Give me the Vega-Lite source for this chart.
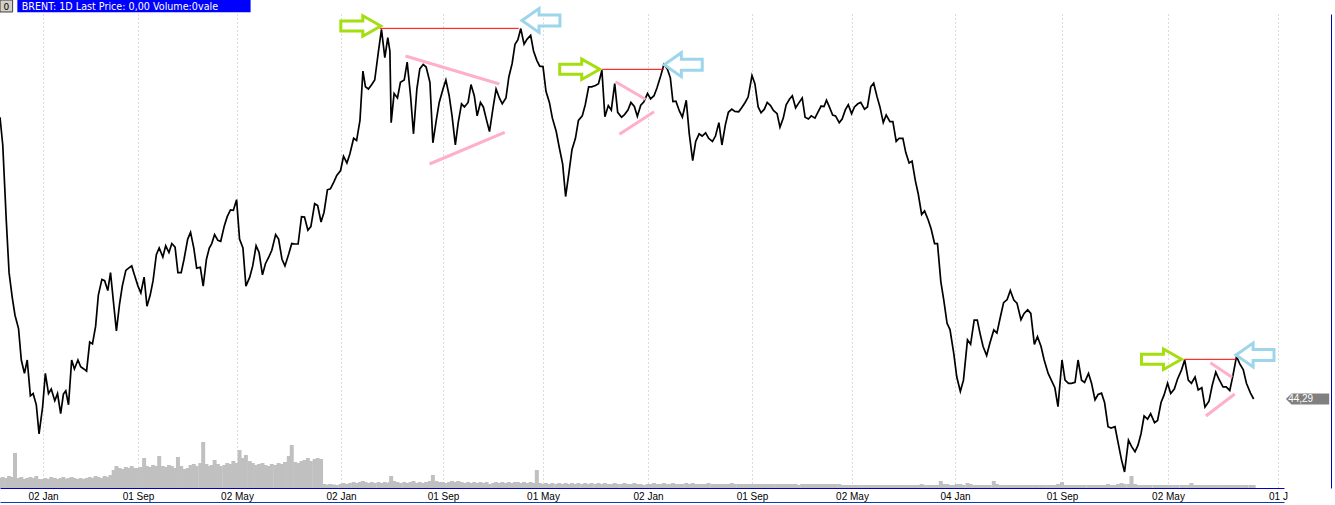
{
  "$schema": "https://vega.github.io/schema/vega-lite/v6.json",
  "width": 1284,
  "height": 474,
  "autosize": {"type": "none"},
  "padding": {"left": 0, "top": 14, "right": 51, "bottom": 17},
  "background": "#ffffff",
  "config": {
    "view": {"stroke": null},
    "font": "Liberation Sans",
    "axis": {"labelFont": "Liberation Sans", "labelFontSize": 10, "labelColor": "#000000", "ticks": false, "title": null, "domainColor": "#0000c0", "domainWidth": 1, "gridColor": "#b8b8b8", "gridDash": [1, 3], "gridWidth": 1}
  },
  "datasets": {
    "px": [
      {"d":"2008-09-15","p":107.2,"v":20},{"d":"2008-09-22","p":101.0,"v":22},{"d":"2008-10-01","p":84.0,"v":20},{"d":"2008-10-08","p":72.5,"v":24},
      {"d":"2008-10-16","p":67.0,"v":22},{"d":"2008-10-23","p":63.0,"v":70},{"d":"2008-11-01","p":60.0,"v":20},{"d":"2008-11-08","p":53.0,"v":22},
      {"d":"2008-11-16","p":50.0,"v":18},{"d":"2008-11-23","p":53.0,"v":20},{"d":"2008-12-01","p":45.0,"v":22},{"d":"2008-12-08","p":45.5,"v":20},
      {"d":"2008-12-16","p":43.0,"v":24},{"d":"2008-12-23","p":36.5,"v":18},
      {"d":"2009-01-01","p":42.5,"v":18},{"d":"2009-01-08","p":50.0,"v":20},{"d":"2009-01-16","p":45.5,"v":18},{"d":"2009-01-23","p":46.5,"v":22},
      {"d":"2009-02-01","p":43.9,"v":20},{"d":"2009-02-08","p":45.5,"v":18},{"d":"2009-02-16","p":41.0,"v":20},{"d":"2009-02-23","p":45.4,"v":22},
      {"d":"2009-03-01","p":46.1,"v":18},{"d":"2009-03-08","p":43.0,"v":20},{"d":"2009-03-16","p":53.0,"v":22},{"d":"2009-03-23","p":51.0,"v":20},
      {"d":"2009-04-01","p":53.0,"v":18},{"d":"2009-04-08","p":51.5,"v":20},{"d":"2009-04-16","p":51.0,"v":18},{"d":"2009-04-23","p":50.5,"v":20},
      {"d":"2009-05-01","p":57.0,"v":22},{"d":"2009-05-08","p":56.6,"v":20},{"d":"2009-05-16","p":60.5,"v":24},{"d":"2009-05-23","p":67.5,"v":22},
      {"d":"2009-06-01","p":71.0,"v":20},{"d":"2009-06-08","p":70.7,"v":24},{"d":"2009-06-16","p":68.5,"v":22},{"d":"2009-06-23","p":72.5,"v":26},
      {"d":"2009-07-01","p":65.5,"v":36},{"d":"2009-07-08","p":59.5,"v":44},{"d":"2009-07-16","p":65.5,"v":40},{"d":"2009-07-23","p":69.5,"v":38},
      {"d":"2009-08-01","p":73.0,"v":42},{"d":"2009-08-08","p":73.5,"v":40},{"d":"2009-08-16","p":74.0,"v":44},{"d":"2009-08-23","p":72.0,"v":40},
      {"d":"2009-09-01","p":69.5,"v":40},{"d":"2009-09-08","p":68.0,"v":42},{"d":"2009-09-16","p":71.5,"v":60},{"d":"2009-09-23","p":65.0,"v":44},
      {"d":"2009-10-01","p":67.5,"v":42},{"d":"2009-10-08","p":70.7,"v":46},{"d":"2009-10-16","p":76.5,"v":44},{"d":"2009-10-23","p":78.0,"v":64},
      {"d":"2009-11-01","p":76.0,"v":44},{"d":"2009-11-08","p":78.5,"v":42},{"d":"2009-11-16","p":77.0,"v":46},{"d":"2009-11-23","p":79.0,"v":44},
      {"d":"2009-12-01","p":78.2,"v":40},{"d":"2009-12-08","p":72.5,"v":62},{"d":"2009-12-16","p":72.5,"v":44},{"d":"2009-12-23","p":75.5,"v":38},
      {"d":"2010-01-01","p":80.0,"v":40},{"d":"2010-01-08","p":81.5,"v":46},{"d":"2010-01-16","p":78.0,"v":48},{"d":"2010-01-23","p":73.5,"v":44},
      {"d":"2010-02-01","p":73.7,"v":50},{"d":"2010-02-08","p":69.5,"v":92},{"d":"2010-02-16","p":75.5,"v":48},{"d":"2010-02-23","p":78.0,"v":44},
      {"d":"2010-03-01","p":79.0,"v":46},{"d":"2010-03-08","p":81.0,"v":56},{"d":"2010-03-16","p":79.7,"v":48},{"d":"2010-03-23","p":79.5,"v":44},
      {"d":"2010-04-01","p":83.0,"v":46},{"d":"2010-04-08","p":85.0,"v":50},{"d":"2010-04-16","p":86.5,"v":48},{"d":"2010-04-23","p":86.4,"v":54},
      {"d":"2010-05-01","p":88.8,"v":50},{"d":"2010-05-08","p":80.0,"v":76},{"d":"2010-05-16","p":78.0,"v":60},{"d":"2010-05-23","p":69.5,"v":66},
      {"d":"2010-06-01","p":71.5,"v":54},{"d":"2010-06-08","p":74.0,"v":50},{"d":"2010-06-16","p":78.5,"v":46},{"d":"2010-06-23","p":77.0,"v":48},
      {"d":"2010-07-01","p":72.0,"v":50},{"d":"2010-07-08","p":74.5,"v":46},{"d":"2010-07-16","p":76.0,"v":44},{"d":"2010-07-23","p":77.5,"v":48},
      {"d":"2010-08-01","p":81.0,"v":46},{"d":"2010-08-08","p":80.0,"v":50},{"d":"2010-08-16","p":75.5,"v":48},{"d":"2010-08-23","p":74.0,"v":52},
      {"d":"2010-09-01","p":76.7,"v":64},{"d":"2010-09-08","p":79.0,"v":86},{"d":"2010-09-16","p":78.9,"v":52},{"d":"2010-09-23","p":78.9,"v":50},
      {"d":"2010-10-01","p":85.0,"v":54},{"d":"2010-10-08","p":84.9,"v":56},{"d":"2010-10-16","p":82.0,"v":60},{"d":"2010-10-23","p":82.8,"v":54},
      {"d":"2010-11-01","p":87.9,"v":58},{"d":"2010-11-08","p":87.5,"v":60},{"d":"2010-11-16","p":83.8,"v":58},{"d":"2010-11-23","p":86.0,"v":8},
      {"d":"2010-12-01","p":91.0,"v":7},{"d":"2010-12-08","p":91.2,"v":8},{"d":"2010-12-16","p":92.7,"v":7},{"d":"2010-12-23","p":94.2,"v":6},
      {"d":"2011-01-01","p":95.3,"v":8},{"d":"2011-01-08","p":98.5,"v":10},{"d":"2011-01-16","p":97.0,"v":8},{"d":"2011-01-23","p":99.0,"v":10},
      {"d":"2011-02-01","p":102.5,"v":12},{"d":"2011-02-08","p":102.0,"v":10},{"d":"2011-02-16","p":106.5,"v":12},{"d":"2011-02-23","p":117.5,"v":14},
      {"d":"2011-03-01","p":114.0,"v":12},{"d":"2011-03-08","p":113.5,"v":10},{"d":"2011-03-16","p":114.5,"v":12},{"d":"2011-03-23","p":115.5,"v":10},
      {"d":"2011-04-01","p":122.0,"v":12},{"d":"2011-04-08","p":126.8,"v":10},{"d":"2011-04-16","p":120.5,"v":12},{"d":"2011-04-23","p":125.0,"v":10},
      {"d":"2011-04-28","p":122.0,"v":12},
      {"d":"2011-05-01","p":106.0,"v":24},{"d":"2011-05-08","p":112.5,"v":14},{"d":"2011-05-16","p":111.5,"v":12},{"d":"2011-05-23","p":115.0,"v":10},
      {"d":"2011-06-01","p":115.5,"v":12},{"d":"2011-06-08","p":119.5,"v":10},{"d":"2011-06-16","p":112.0,"v":12},{"d":"2011-06-23","p":103.5,"v":14},
      {"d":"2011-07-01","p":113.5,"v":10},{"d":"2011-07-08","p":118.0,"v":12},{"d":"2011-07-16","p":119.0,"v":10},{"d":"2011-07-23","p":118.4,"v":12},
      {"d":"2011-08-01","p":115.0,"v":14},{"d":"2011-08-08","p":101.5,"v":26},{"d":"2011-08-16","p":106.5,"v":14},{"d":"2011-08-23","p":110.5,"v":12},
      {"d":"2011-09-01","p":113.5,"v":12},{"d":"2011-09-08","p":115.5,"v":10},{"d":"2011-09-16","p":112.0,"v":12},{"d":"2011-09-23","p":107.5,"v":14},
      {"d":"2011-10-01","p":101.0,"v":12},{"d":"2011-10-08","p":106.0,"v":14},{"d":"2011-10-16","p":110.2,"v":12},{"d":"2011-10-23","p":109.5,"v":10},
      {"d":"2011-11-01","p":110.5,"v":12},{"d":"2011-11-08","p":114.5,"v":10},{"d":"2011-11-16","p":112.0,"v":12},{"d":"2011-11-23","p":107.5,"v":10},
      {"d":"2011-12-01","p":110.5,"v":12},{"d":"2011-12-08","p":109.5,"v":10},{"d":"2011-12-16","p":106.5,"v":12},{"d":"2011-12-23","p":104.0,"v":8},
      {"d":"2012-01-01","p":109.5,"v":10},{"d":"2012-01-08","p":113.5,"v":12},{"d":"2012-01-16","p":111.5,"v":10},{"d":"2012-01-23","p":110.2,"v":12},
      {"d":"2012-02-01","p":111.5,"v":10},{"d":"2012-02-08","p":116.2,"v":12},{"d":"2012-02-16","p":119.2,"v":10},{"d":"2012-02-23","p":123.5,"v":12},
      {"d":"2012-03-01","p":124.5,"v":12},{"d":"2012-03-08","p":127.0,"v":10},{"d":"2012-03-16","p":123.5,"v":12},{"d":"2012-03-23","p":124.6,"v":10},
      {"d":"2012-04-01","p":125.5,"v":12},{"d":"2012-04-08","p":122.0,"v":10},{"d":"2012-04-16","p":119.9,"v":36},{"d":"2012-04-23","p":118.6,"v":10},
      {"d":"2012-05-01","p":118.5,"v":8},{"d":"2012-05-08","p":113.0,"v":10},{"d":"2012-05-16","p":110.5,"v":8},{"d":"2012-05-23","p":107.0,"v":10},
      {"d":"2012-06-01","p":104.0,"v":8},{"d":"2012-06-08","p":100.5,"v":10},{"d":"2012-06-16","p":96.8,"v":8},{"d":"2012-06-23","p":89.5,"v":10},
      {"d":"2012-07-01","p":95.0,"v":8},{"d":"2012-07-08","p":100.0,"v":10},{"d":"2012-07-16","p":102.5,"v":8},{"d":"2012-07-23","p":106.5,"v":10},
      {"d":"2012-08-01","p":107.5,"v":8},{"d":"2012-08-08","p":110.0,"v":10},{"d":"2012-08-16","p":114.0,"v":8},{"d":"2012-08-23","p":114.0,"v":10},
      {"d":"2012-09-01","p":114.3,"v":8},{"d":"2012-09-08","p":114.7,"v":10},{"d":"2012-09-16","p":117.7,"v":8},{"d":"2012-09-23","p":107.3,"v":10},
      {"d":"2012-10-01","p":109.8,"v":8},{"d":"2012-10-08","p":108.8,"v":8},{"d":"2012-10-16","p":114.7,"v":10},{"d":"2012-10-23","p":108.3,"v":8},
      {"d":"2012-11-01","p":107.2,"v":8},{"d":"2012-11-08","p":107.8,"v":10},{"d":"2012-11-16","p":108.8,"v":8},{"d":"2012-11-23","p":110.5,"v":8},
      {"d":"2012-12-01","p":109.6,"v":10},{"d":"2012-12-08","p":107.4,"v":8},{"d":"2012-12-16","p":109.9,"v":8},{"d":"2012-12-23","p":110.6,"v":6},
      {"d":"2013-01-01","p":112.5,"v":8},{"d":"2013-01-08","p":111.3,"v":8},{"d":"2013-01-16","p":112.0,"v":10},{"d":"2013-01-23","p":113.8,"v":8},
      {"d":"2013-02-01","p":116.6,"v":8},{"d":"2013-02-08","p":119.0,"v":10},{"d":"2013-02-16","p":118.0,"v":8},{"d":"2013-02-23","p":116.0,"v":8},
      {"d":"2013-03-01","p":110.7,"v":10},{"d":"2013-03-08","p":110.8,"v":8},{"d":"2013-03-16","p":108.6,"v":8},{"d":"2013-03-23","p":107.2,"v":8},
      {"d":"2013-04-01","p":111.0,"v":10},{"d":"2013-04-08","p":103.5,"v":8},{"d":"2013-04-16","p":97.5,"v":10},{"d":"2013-04-23","p":101.8,"v":8},
      {"d":"2013-05-01","p":103.5,"v":8},{"d":"2013-05-08","p":103.0,"v":8},{"d":"2013-05-16","p":103.7,"v":8},{"d":"2013-05-23","p":102.5,"v":10},
      {"d":"2013-06-01","p":101.8,"v":8},{"d":"2013-06-08","p":103.0,"v":8},{"d":"2013-06-16","p":106.0,"v":8},{"d":"2013-06-23","p":101.0,"v":8},
      {"d":"2013-07-01","p":105.5,"v":8},{"d":"2013-07-08","p":108.3,"v":8},{"d":"2013-07-16","p":109.0,"v":10},{"d":"2013-07-23","p":108.5,"v":8},
      {"d":"2013-08-01","p":108.4,"v":8},{"d":"2013-08-08","p":109.3,"v":8},{"d":"2013-08-16","p":110.5,"v":8},{"d":"2013-08-23","p":111.7,"v":8},
      {"d":"2013-09-01","p":116.5,"v":8},{"d":"2013-09-08","p":114.7,"v":8},{"d":"2013-09-16","p":109.5,"v":8},{"d":"2013-09-23","p":108.2,"v":8},
      {"d":"2013-10-01","p":109.0,"v":8},{"d":"2013-10-08","p":110.5,"v":8},{"d":"2013-10-16","p":109.8,"v":8},{"d":"2013-10-23","p":108.7,"v":8},
      {"d":"2013-11-01","p":108.0,"v":8},{"d":"2013-11-08","p":105.0,"v":8},{"d":"2013-11-16","p":107.0,"v":8},{"d":"2013-11-23","p":110.0,"v":8},
      {"d":"2013-12-01","p":111.2,"v":8},{"d":"2013-12-08","p":112.0,"v":8},{"d":"2013-12-16","p":109.3,"v":8},{"d":"2013-12-23","p":110.3,"v":6},
      {"d":"2014-01-01","p":111.5,"v":8},{"d":"2014-01-08","p":107.2,"v":8},{"d":"2014-01-16","p":106.8,"v":8},{"d":"2014-01-23","p":107.5,"v":8},
      {"d":"2014-02-01","p":107.0,"v":8},{"d":"2014-02-08","p":108.3,"v":8},{"d":"2014-02-16","p":109.7,"v":8},{"d":"2014-02-23","p":109.6,"v":8},
      {"d":"2014-03-01","p":111.0,"v":8},{"d":"2014-03-08","p":109.5,"v":8},{"d":"2014-03-16","p":107.7,"v":8},{"d":"2014-03-23","p":107.5,"v":8},
      {"d":"2014-04-01","p":106.0,"v":8},{"d":"2014-04-08","p":106.8,"v":6},{"d":"2014-04-16","p":108.9,"v":6},{"d":"2014-04-23","p":110.0,"v":6},
      {"d":"2014-05-01","p":108.0,"v":6},{"d":"2014-05-08","p":109.5,"v":6},{"d":"2014-05-16","p":110.2,"v":6},{"d":"2014-05-23","p":110.5,"v":6},
      {"d":"2014-06-01","p":109.0,"v":6},{"d":"2014-06-08","p":109.5,"v":6},{"d":"2014-06-16","p":114.0,"v":6},{"d":"2014-06-23","p":114.8,"v":6},
      {"d":"2014-07-01","p":111.8,"v":6},{"d":"2014-07-08","p":109.5,"v":6},{"d":"2014-07-16","p":106.0,"v":6},{"d":"2014-07-23","p":107.7,"v":6},
      {"d":"2014-08-01","p":106.2,"v":6},{"d":"2014-08-08","p":106.2,"v":6},{"d":"2014-08-16","p":101.8,"v":6},{"d":"2014-08-23","p":102.5,"v":6},
      {"d":"2014-09-01","p":102.5,"v":6},{"d":"2014-09-08","p":99.3,"v":6},{"d":"2014-09-16","p":97.0,"v":6},{"d":"2014-09-23","p":97.4,"v":6},
      {"d":"2014-10-01","p":93.0,"v":6},{"d":"2014-10-08","p":90.0,"v":6},{"d":"2014-10-16","p":85.5,"v":8},{"d":"2014-10-23","p":86.3,"v":6},
      {"d":"2014-11-01","p":84.2,"v":6},{"d":"2014-11-08","p":82.2,"v":6},{"d":"2014-11-16","p":79.0,"v":6},{"d":"2014-11-23","p":79.0,"v":6},
      {"d":"2014-12-01","p":70.5,"v":14},{"d":"2014-12-08","p":66.4,"v":8},{"d":"2014-12-16","p":61.2,"v":8},{"d":"2014-12-23","p":59.8,"v":6},
      {"d":"2015-01-01","p":54.5,"v":6},{"d":"2015-01-08","p":49.2,"v":8},{"d":"2015-01-16","p":46.0,"v":8},{"d":"2015-01-23","p":48.5,"v":6},
      {"d":"2015-02-01","p":57.5,"v":10},{"d":"2015-02-08","p":56.5,"v":8},{"d":"2015-02-16","p":61.9,"v":6},{"d":"2015-02-23","p":61.9,"v":6},
      {"d":"2015-03-01","p":59.0,"v":6},{"d":"2015-03-08","p":56.0,"v":6},{"d":"2015-03-16","p":54.0,"v":6},{"d":"2015-03-23","p":56.7,"v":6},
      {"d":"2015-04-01","p":59.7,"v":14},{"d":"2015-04-08","p":59.0,"v":8},{"d":"2015-04-16","p":62.7,"v":6},{"d":"2015-04-23","p":65.8,"v":6},
      {"d":"2015-05-01","p":66.5,"v":6},{"d":"2015-05-08","p":68.5,"v":6},{"d":"2015-05-16","p":66.4,"v":6},{"d":"2015-05-23","p":65.7,"v":6},
      {"d":"2015-06-01","p":62.0,"v":6},{"d":"2015-06-08","p":63.4,"v":6},{"d":"2015-06-16","p":64.2,"v":6},{"d":"2015-06-23","p":63.4,"v":6},
      {"d":"2015-07-01","p":56.5,"v":6},{"d":"2015-07-08","p":58.2,"v":6},{"d":"2015-07-16","p":56.0,"v":6},{"d":"2015-07-23","p":53.0,"v":6},
      {"d":"2015-08-01","p":50.0,"v":6},{"d":"2015-08-08","p":48.5,"v":6},{"d":"2015-08-16","p":46.8,"v":6},{"d":"2015-08-23","p":42.6,"v":8},
      {"d":"2015-09-01","p":53.0,"v":12},{"d":"2015-09-08","p":48.5,"v":6},{"d":"2015-09-16","p":47.8,"v":6},{"d":"2015-09-23","p":47.8,"v":6},
      {"d":"2015-10-01","p":48.0,"v":6},{"d":"2015-10-08","p":53.0,"v":6},{"d":"2015-10-16","p":48.5,"v":6},{"d":"2015-10-23","p":48.0,"v":6},
      {"d":"2015-11-01","p":50.0,"v":6},{"d":"2015-11-08","p":47.8,"v":6},{"d":"2015-11-16","p":44.1,"v":6},{"d":"2015-11-23","p":45.3,"v":6},
      {"d":"2015-12-01","p":45.6,"v":6},{"d":"2015-12-08","p":43.5,"v":6},{"d":"2015-12-16","p":38.1,"v":8},{"d":"2015-12-23","p":37.8,"v":6},
      {"d":"2016-01-01","p":38.1,"v":6},{"d":"2016-01-08","p":34.6,"v":8},{"d":"2016-01-16","p":30.7,"v":10},{"d":"2016-01-23","p":28.0,"v":8},
      {"d":"2016-02-01","p":35.1,"v":8},{"d":"2016-02-08","p":33.7,"v":24},{"d":"2016-02-16","p":32.5,"v":8},{"d":"2016-02-23","p":34.0,"v":6},
      {"d":"2016-03-01","p":36.6,"v":6},{"d":"2016-03-08","p":40.5,"v":6},{"d":"2016-03-16","p":39.8,"v":6},{"d":"2016-03-23","p":41.0,"v":6},
      {"d":"2016-04-01","p":39.0,"v":6},{"d":"2016-04-08","p":39.5,"v":6},{"d":"2016-04-16","p":43.5,"v":6},{"d":"2016-04-23","p":45.2,"v":6},
      {"d":"2016-05-01","p":47.8,"v":6},{"d":"2016-05-08","p":45.5,"v":6},{"d":"2016-05-16","p":46.5,"v":6},{"d":"2016-05-23","p":48.7,"v":6},
      {"d":"2016-06-01","p":50.8,"v":6},{"d":"2016-06-08","p":53.0,"v":6},{"d":"2016-06-16","p":48.5,"v":6},{"d":"2016-06-23","p":47.8,"v":10},
      {"d":"2016-07-01","p":49.2,"v":6},{"d":"2016-07-08","p":46.3,"v":6},{"d":"2016-07-16","p":46.8,"v":6},{"d":"2016-07-23","p":42.5,"v":6},
      {"d":"2016-08-01","p":43.8,"v":6},{"d":"2016-08-08","p":47.3,"v":6},{"d":"2016-08-16","p":50.3,"v":6},{"d":"2016-08-23","p":48.7,"v":6},
      {"d":"2016-09-01","p":47.0,"v":6},{"d":"2016-09-08","p":47.0,"v":6},{"d":"2016-09-16","p":46.2,"v":6},{"d":"2016-09-23","p":49.5,"v":6},
      {"d":"2016-10-01","p":53.8,"v":6},{"d":"2016-10-08","p":52.2,"v":6},{"d":"2016-10-16","p":50.8,"v":6},{"d":"2016-10-23","p":47.8,"v":6},
      {"d":"2016-11-01","p":45.6,"v":6},{"d":"2016-11-08","p":44.29,"v":6}
    ],
    "res": [
      {"d":"2011-04-04","d2":"2012-03-03","p":127.05},
      {"d":"2012-09-16","d2":"2013-02-08","p":117.9},
      {"d":"2016-06-07","d2":"2016-10-02","p":53.15}
    ],
    "trend": [
      {"d":"2011-06-04","p":120.87,"d2":"2012-01-16","p2":114.62},
      {"d":"2011-07-31","p":96.76,"d2":"2012-01-29","p2":103.83},
      {"d":"2012-10-18","p":115.13,"d2":"2012-12-27","p2":111.2},
      {"d":"2012-10-27","p":103.39,"d2":"2013-01-16","p2":108.43},
      {"d":"2016-08-04","p":52.39,"d2":"2016-09-21","p2":49.14},
      {"d":"2016-07-25","p":40.5,"d2":"2016-09-27","p2":45.4}
    ],
    "up": [
      {"d":"2011-02-18","p":127.57},
      {"d":"2012-07-26","p":117.9},
      {"d":"2016-04-17","p":53.17}
    ],
    "down": [
      {"d":"2012-04-26","p":128.8},
      {"d":"2013-03-25","p":118.93},
      {"d":"2016-11-11","p":54.11}
    ],
    "tag": [{"d":"2017-03-06","dt":"2017-01-23","p":44.29,"label":"44,29"}],
    "titlebar": [{"d":"2008-10-29","d2":"2010-06-03","p":133.38,"p2":130.63,"dt":"2008-11-09","pt":131.14,"label":"BRENT: 1D Last Price: 0,00 Volume:0vale"}],
    "icon": [{"d":"2008-09-15","d2":"2008-10-17","p":133.38,"p2":130.7,"dt":"2008-10-01","pt":131.14,"label":"0"}]
  },
  "resolve": {"scale": {"y": "independent"}, "axis": {"x": "independent", "y": "independent"}},
  "layer": [
    {
      "data": {"name": "px"},
      "mark": {"type": "bar", "color": "#c0c0c0", "size": 4},
      "encoding": {
        "x": {
          "field": "d", "type": "temporal",
          "scale": {
            "type": "utc", "nice": false,
            "domain": [{"year":2008,"month":9,"date":15,"utc":true}, {"year":2017,"month":1,"date":14,"utc":true}],
            "domainRaw": {"expr": "[utc(2008,8,15),utc(2009,0,2),utc(2009,8,1),utc(2010,4,2),utc(2011,0,2),utc(2011,8,1),utc(2012,4,1),utc(2013,0,2),utc(2013,8,1),utc(2014,4,2),utc(2015,0,4),utc(2015,8,1),utc(2016,4,2),utc(2017,0,1),utc(2017,0,14)]"},
            "range": [0,43,138,237,341,443,543,648,752,852,955,1062,1168,1278,1284]
          },
          "axis": {
            "orient": "bottom",
            "values": [
              {"year":2009,"month":1,"date":2,"utc":true},
              {"year":2009,"month":9,"date":1,"utc":true},
              {"year":2010,"month":5,"date":2,"utc":true},
              {"year":2011,"month":1,"date":2,"utc":true},
              {"year":2011,"month":9,"date":1,"utc":true},
              {"year":2012,"month":5,"date":1,"utc":true},
              {"year":2013,"month":1,"date":2,"utc":true},
              {"year":2013,"month":9,"date":1,"utc":true},
              {"year":2014,"month":5,"date":2,"utc":true},
              {"year":2015,"month":1,"date":4,"utc":true},
              {"year":2015,"month":9,"date":1,"utc":true},
              {"year":2016,"month":5,"date":2,"utc":true},
              {"year":2017,"month":1,"date":1,"utc":true}
            ],
            "format": "%d %b",
            "labelExpr": "utcyear(datum.value) >= 2017 ? '01 J' : datum.label",
            "grid": true, "ticks": false, "labelPadding": 3, "labelFlush": false, "labelOverlap": false,
            "domainColor": "#0000c0", "title": null
          }
        },
        "y": {
          "field": "v", "type": "quantitative",
          "scale": {"domain": [0, 948], "nice": false, "zero": true},
          "axis": {"orient": "right", "offset": 47, "labels": false, "grid": false, "ticks": false, "domainColor": "#0000c0", "title": null}
        }
      }
    },
    {
      "layer": [
        {
          "data": {"name": "px"},
          "mark": {"type": "line", "color": "#000000", "strokeWidth": 1.7},
          "encoding": {
            "x": {"field": "d", "type": "temporal", "axis": {"orient": "top", "labels": false, "grid": false, "ticks": false, "domainColor": "#0000c0", "title": null}},
            "y": {
              "field": "p", "type": "quantitative",
              "scale": {"domain": [24.42, 130.25], "nice": false, "zero": false},
              "axis": {
                "orient": "right",
                "values": [30, 37.5, 45, 52.5, 60, 67.5, 75, 82.5, 90, 97.5, 105, 112.5, 120, 127.5],
                "labelExpr": "replace(format(datum.value, '.2f'), '.', ',')",
                "grid": true, "ticks": false, "labelPadding": 5, "domainColor": "#0000c0", "title": null
              }
            }
          }
        },
        {
          "data": {"name": "res"},
          "mark": {"type": "rule", "color": "#ff0000", "strokeWidth": 1},
          "encoding": {
            "x": {"field": "d", "type": "temporal", "axis": null},
            "x2": {"field": "d2"},
            "y": {"field": "p", "type": "quantitative", "axis": null}
          }
        },
        {
          "data": {"name": "up"},
          "mark": {"type": "point", "shape": "M-1,-0.25L0.1,-0.25L0.1,-0.51L1,0L0.1,0.51L0.1,0.25L-1,0.25Z", "filled": false, "size": 1600, "strokeWidth": 3, "color": "#a5de0f", "opacity": 1},
          "encoding": {
            "x": {"field": "d", "type": "temporal", "axis": null},
            "y": {"field": "p", "type": "quantitative", "axis": null}
          }
        },
        {
          "data": {"name": "down"},
          "mark": {"type": "point", "shape": "M-1,0L-0.1,-0.63L-0.1,-0.29L1,-0.29L1,0.29L-0.1,0.29L-0.1,0.63Z", "filled": false, "size": 1444, "strokeWidth": 3, "color": "#9dd6ea", "opacity": 1},
          "encoding": {
            "x": {"field": "d", "type": "temporal", "axis": null},
            "y": {"field": "p", "type": "quantitative", "axis": null}
          }
        },
        {
          "data": {"name": "tag"},
          "mark": {"type": "point", "shape": "M-1,0L-0.74,-0.25L1,-0.25L1,0.25L-0.74,0.25Z", "filled": true, "size": 1875, "color": "#808080", "opacity": 1, "strokeWidth": 0},
          "encoding": {
            "x": {"field": "d", "type": "temporal", "axis": null},
            "y": {"field": "p", "type": "quantitative", "axis": null}
          }
        },
        {
          "data": {"name": "tag"},
          "mark": {"type": "text", "color": "#ffffff", "font": "Liberation Sans", "fontSize": 10, "align": "left", "baseline": "middle"},
          "encoding": {
            "x": {"field": "dt", "type": "temporal", "axis": null},
            "y": {"field": "p", "type": "quantitative", "axis": null},
            "text": {"field": "label"}
          }
        },
        {
          "data": {"name": "titlebar"},
          "mark": {"type": "rect", "color": "#0000ff"},
          "encoding": {
            "x": {"field": "d", "type": "temporal", "axis": null},
            "x2": {"field": "d2"},
            "y": {"field": "p", "type": "quantitative", "axis": null},
            "y2": {"field": "p2"}
          }
        },
        {
          "data": {"name": "titlebar"},
          "mark": {"type": "text", "color": "#ffffff", "font": "DejaVu Sans", "fontSize": 9.6, "align": "left", "baseline": "alphabetic"},
          "encoding": {
            "x": {"field": "dt", "type": "temporal", "axis": null},
            "y": {"field": "pt", "type": "quantitative", "axis": null},
            "text": {"field": "label"}
          }
        },
        {
          "data": {"name": "icon"},
          "mark": {"type": "rect", "color": "#d4d0c8", "stroke": "#404040", "strokeWidth": 1},
          "encoding": {
            "x": {"field": "d", "type": "temporal", "axis": null},
            "x2": {"field": "d2"},
            "y": {"field": "p", "type": "quantitative", "axis": null},
            "y2": {"field": "p2"}
          }
        },
        {
          "data": {"name": "icon"},
          "mark": {"type": "text", "color": "#000000", "font": "DejaVu Sans", "fontSize": 9, "align": "center", "baseline": "alphabetic"},
          "encoding": {
            "x": {"field": "dt", "type": "temporal", "axis": null},
            "y": {"field": "pt", "type": "quantitative", "axis": null},
            "text": {"field": "label"}
          }
        }
      ]
    },
    {
      "data": {"name": "trend"},
      "mark": {"type": "rule", "color": "#ffb0c8", "strokeWidth": 3},
      "encoding": {
        "x": {"field": "d", "type": "temporal", "axis": {"orient": "bottom", "offset": 14, "labels": false, "grid": false, "ticks": false, "domainColor": "#0040c0", "title": null}},
        "x2": {"field": "d2"},
        "y": {"field": "p", "type": "quantitative", "scale": {"domain": [24.42, 130.25], "nice": false, "zero": false}, "axis": null},
        "y2": {"field": "p2"}
      }
    }
  ]
}
